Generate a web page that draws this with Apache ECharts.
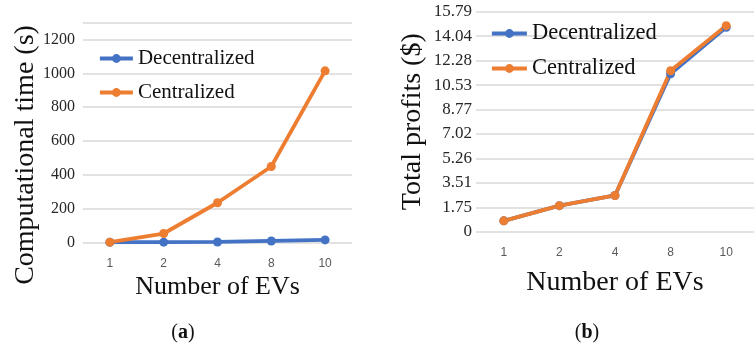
<!DOCTYPE html>
<html>
<head>
<meta charset="utf-8">
<script src="https://cdn.jsdelivr.net/npm/echarts@6/dist/echarts.min.js"></script>
<style>
  html, body { margin: 0; padding: 0; background: #fff; }
  #chart { width: 754px; height: 344px; }
</style>
</head>
<body>
<div id="chart"></div>
<script>
// Number of EVs on the x axis of both panels
const evCounts = ['1', '2', '4', '8', '10'];

// (a) computational time in seconds
const timeDecentralized = [0.3, 0.8, 2, 8, 14];
const timeCentralized = [1, 52, 234, 449, 1015];

// (b) total profits in dollars
const profitDecentralized = [0.78, 1.87, 2.6, 11.34, 14.67];
const profitCentralized = [0.78, 1.87, 2.6, 11.55, 14.79];

// y tick labels of panel (b)
const profitTicks = ['0', '1.75', '3.51', '5.26', '7.02', '8.77', '10.53', '12.28', '14.04', '15.79'];

const BLUE = '#4472C4';
const ORANGE = '#ED7D31';
const SERIF = '"Liberation Serif", "Times New Roman", serif';
const SANS = '"Liberation Sans", Arial, sans-serif';

const chart = echarts.init(document.getElementById('chart'), null, { renderer: 'canvas' });

function lineSeries(name, data, color, idx) {
  return {
    name: name,
    type: 'line',
    xAxisIndex: idx,
    yAxisIndex: idx,
    data: data,
    symbol: 'circle',
    symbolSize: 9,
    lineStyle: { color: color, width: 3.8 },
    itemStyle: { color: color },
    emphasis: { disabled: true },
    animation: false
  };
}

const xAxisBase = {
  type: 'category',
  data: evCounts,
  boundaryGap: true,
  axisLine: { show: false },
  axisTick: { show: false },
  axisLabel: { fontFamily: SANS, fontSize: 12, color: '#595959', margin: 15 },
  nameLocation: 'middle',
  nameTextStyle: { fontFamily: SERIF, color: '#111' }
};

const splitLine = { show: true, lineStyle: { color: '#d9d9d9', width: 1.5 } };

const legendBase = {
  data: ['Decentralized', 'Centralized'],
  orient: 'vertical',
  padding: 0,
  itemHeight: 11,
  lineStyle: { width: 3.8 },
  itemStyle: { borderWidth: 0 }
};

chart.setOption({
  backgroundColor: '#ffffff',
  animation: false,
  grid: [
    { left: 83, width: 269, top: 22.7, bottom: 101.7 },
    { left: 476, width: 292.5, top: 11.7, bottom: 112.3 }
  ],
  legend: [
    Object.assign({}, legendBase, {
      left: 98,
      top: 48,
      itemWidth: 33,
      itemGap: 13,
      textStyle: { fontFamily: SERIF, fontSize: 21, color: '#111' }
    }),
    Object.assign({}, legendBase, {
      left: 490,
      top: 22,
      itemWidth: 35,
      itemGap: 12,
      textStyle: { fontFamily: SERIF, fontSize: 22.5, color: '#111' }
    })
  ],
  xAxis: [
    Object.assign({}, xAxisBase, {
      gridIndex: 0,
      name: 'Number of EVs',
      nameGap: 26,
      nameTextStyle: { fontFamily: SERIF, fontSize: 26, color: '#111' }
    }),
    Object.assign({}, xAxisBase, {
      gridIndex: 1,
      name: 'Number of EVs',
      nameGap: 37,
      nameTextStyle: { fontFamily: SERIF, fontSize: 28, color: '#111' }
    })
  ],
  yAxis: [
    {
      type: 'value',
      gridIndex: 0,
      min: 0,
      max: 1300,
      interval: 200,
      axisLine: { show: false },
      axisTick: { show: false },
      splitLine: splitLine,
      axisLabel: {
        fontFamily: SERIF, fontSize: 16, color: '#262626', margin: 8, showMaxLabel: false,
        formatter: function (v) { return String(v); }
      }
    },
    {
      type: 'value',
      gridIndex: 1,
      min: 0,
      max: 15.79,
      interval: 15.79 / 9,
      axisLine: { show: false },
      axisTick: { show: false },
      splitLine: splitLine,
      name: 'Total profits ($)',
      nameLocation: 'middle',
      nameGap: 49,
      nameTextStyle: { fontFamily: SERIF, fontSize: 28, color: '#111' },
      axisLabel: {
        fontFamily: SERIF, fontSize: 17, color: '#262626', margin: 4,
        formatter: function (v, i) {
          return profitTicks[i] !== undefined ? profitTicks[i] : '';
        }
      }
    }
  ],
  graphic: [
    {
      type: 'text',
      x: 26,
      y: 155,
      rotation: Math.PI / 2,
      style: {
        text: 'Computational time (s)',
        font: '28px ' + SERIF,
        fill: '#111',
        align: 'center',
        verticalAlign: 'middle'
      }
    },
    {
      type: 'text',
      x: 183,
      y: 333,
      style: {
        text: '{p|(}{b|a}{p|)}',
        align: 'center',
        verticalAlign: 'middle',
        rich: {
          p: { fontFamily: SERIF, fontSize: 20, fill: '#111', color: '#111' },
          b: { fontFamily: SERIF, fontSize: 20, fontWeight: 'bold', fill: '#111', color: '#111' }
        }
      }
    },
    {
      type: 'text',
      x: 587,
      y: 333,
      style: {
        text: '{p|(}{b|b}{p|)}',
        align: 'center',
        verticalAlign: 'middle',
        rich: {
          p: { fontFamily: SERIF, fontSize: 20, fill: '#111', color: '#111' },
          b: { fontFamily: SERIF, fontSize: 20, fontWeight: 'bold', fill: '#111', color: '#111' }
        }
      }
    }
  ],
  series: [
    lineSeries('Decentralized', timeDecentralized, BLUE, 0),
    lineSeries('Centralized', timeCentralized, ORANGE, 0),
    lineSeries('Decentralized', profitDecentralized, BLUE, 1),
    lineSeries('Centralized', profitCentralized, ORANGE, 1)
  ]
});
</script>
</body>
</html>
